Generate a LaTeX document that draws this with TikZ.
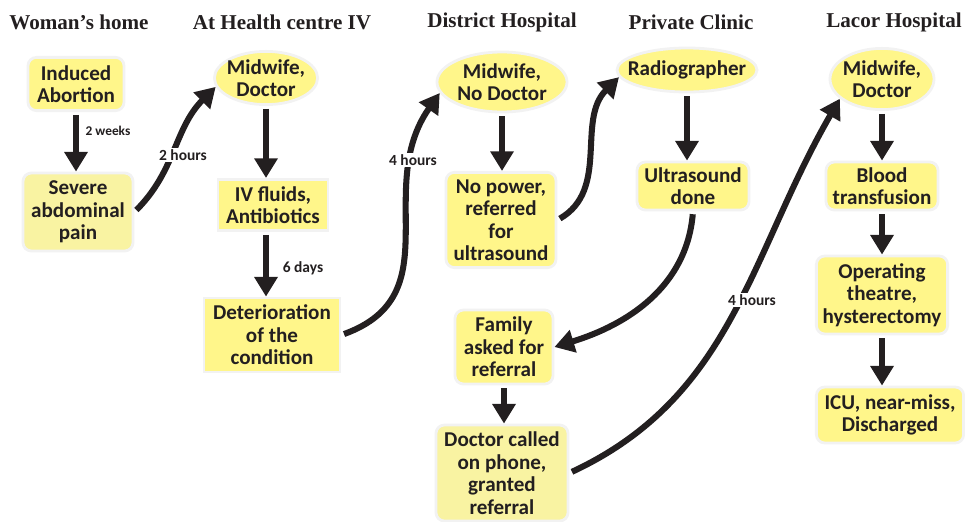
\documentclass[tikz,border=0pt]{standalone}
\usepackage{fontspec}
\setmainfont{Carlito}
\newfontfamily\headfont{Liberation Serif}
\usetikzlibrary{shapes.geometric,arrows.meta}
\definecolor{boxyellow}{HTML}{FFF68A}
\definecolor{paleyellow}{HTML}{F9F3A2}
\definecolor{ink}{HTML}{231F20}

\begin{document}
\begin{tikzpicture}[x=0.025cm, y=-0.025cm,
                      every node/.style = {align=center, text=ink,
                        font=\bfseries\fontsize{15}{16}\selectfont},
                      box/.style = {shape=rectangle, rounded corners=6pt,
                        draw=black!5, line width=2pt, fill=boxyellow, inner sep=0pt},
                      flat/.style = {box, sharp corners},
                      oval/.style = {shape=ellipse, draw=black!5, line width=2pt,
                        fill=boxyellow, inner sep=0pt},
                      heading/.style = {font=\headfont\bfseries\fontsize{15}{18}\selectfont},
                      flow/.style = {draw=ink, line width=4.3pt, shorten <=2pt,
                        -{Triangle[length=14pt,width=16pt]}},
                      lbl/.style = {font=\bfseries\fontsize{11}{12}\selectfont,
                        fill=white, inner sep=1pt}]
  \useasboundingbox (0,0) rectangle (965,521);

  \node[heading] (hhome)     at (79,22)  {Woman’s home};
  \node[heading] (hcentre)   at (282,22) {At Health centre IV};
  \node[heading] (hdistrict) at (502,22) {District Hospital};
  \node[heading] (hprivate)  at (691,22) {Private Clinic};
  \node[heading] (hlacor)    at (894,22) {Lacor Hospital};

  \node[box, minimum width=2.4cm, minimum height=1.33cm] (induced) at (76,84) {Induced\\Abortion};
  \node[box, fill=paleyellow, minimum width=2.75cm, minimum height=1.95cm] (severe) at (78,212) {Severe\\abdominal\\pain};

  \node[oval, inner xsep=-3.5pt, inner ysep=-2pt, minimum width=2.58cm, minimum height=1.33cm] (mw1) at (266,78) {Midwife,\\Doctor};
  \node[flat, minimum width=2.75cm, minimum height=1.28cm] (ivfluids) at (273,205) {IV fluids,\\Antibiotics};
  \node[flat, minimum width=3.4cm, minimum height=1.85cm] (deterioration) at (272,335) {Deterioration\\of the\\condition};

  \node[oval, inner xsep=-3pt, inner ysep=-2pt, minimum width=3.25cm, minimum height=1.5cm] (mw2) at (502,82) {Midwife,\\No Doctor};
  \node[box, minimum width=2.75cm, minimum height=2.38cm] (nopower) at (501,220) {No power,\\referred\\for\\ultrasound};
  \node[box, minimum width=2.45cm, minimum height=1.85cm] (family) at (504,347) {Family\\asked for\\referral};
  \node[box, fill=paleyellow, minimum width=3.3cm, minimum height=2.4cm] (doctorcalled) at (502,473) {Doctor called\\on phone,\\granted\\referral};

  \node[oval, inner xsep=-7pt, inner ysep=-1pt, minimum width=3.5cm, minimum height=1.1cm] (radiographer) at (687,70) {Radiographer};
  \node[box, minimum width=2.8cm, minimum height=1.2cm] (ultrasound) at (693,186) {Ultrasound\\done};

  \node[oval, inner xsep=-3.5pt, inner ysep=-2pt, minimum width=2.6cm, minimum height=1.53cm] (mw3) at (882,79) {Midwife,\\Doctor};
  \node[box, minimum width=2.8cm, minimum height=1.2cm] (blood) at (882,186) {Blood\\transfusion};
  \node[box, minimum width=3.28cm, minimum height=1.95cm] (operating) at (882,295) {Operating\\theatre,\\hysterectomy};
  \node[box, minimum width=3.68cm, minimum height=1.4cm] (icu) at (890,415) {ICU, near-miss,\\Discharged};

  \draw[flow] (induced.south) -- (induced.south |- severe.north);
  \draw[flow] (severe.east) to[out=45, in=225] (mw1.190);
  \draw[flow] (mw1.south) -- (mw1.south |- ivfluids.north);
  \draw[flow] (mw1.south |- ivfluids.south) -- (mw1.south |- deterioration.north);
  \draw[flow] (deterioration.east) to[out=20, in=235, looseness=1.15] (mw2.190);
  \draw[flow] (mw2.south) -- (mw2.south |- nopower.north);
  \draw[flow] (nopower.east) to[out=30, in=225] (radiographer.186);
  \draw[flow] (radiographer.south) -- (radiographer.south |- ultrasound.north);
  \draw[flow] (ultrasound.south) to[out=265, in=17] (family.east);
  \draw[flow] (family.south) -- (family.south |- doctorcalled.north);
  \draw[flow] (doctorcalled.east) to[out=25, in=240] (mw3.205);
  \draw[flow] (mw3.south) -- (mw3.south |- blood.north);
  \draw[flow] (blood.south) -- (blood.south |- operating.north);
  \draw[flow] (operating.south) -- (operating.south |- icu.north);

  \node[lbl, font=\bfseries\fontsize{9.5}{11}\selectfont] (tweeks) at (108,131) {2 weeks};
  \node[lbl] (thours)  at (183,155) {2 hours};
  \node[lbl] (tdays)   at (303,268) {6 days};
  \node[lbl] (fhoursa) at (413,160) {4 hours};
  \node[lbl] (fhoursb) at (752,300) {4 hours};
\end{tikzpicture}
\end{document}
